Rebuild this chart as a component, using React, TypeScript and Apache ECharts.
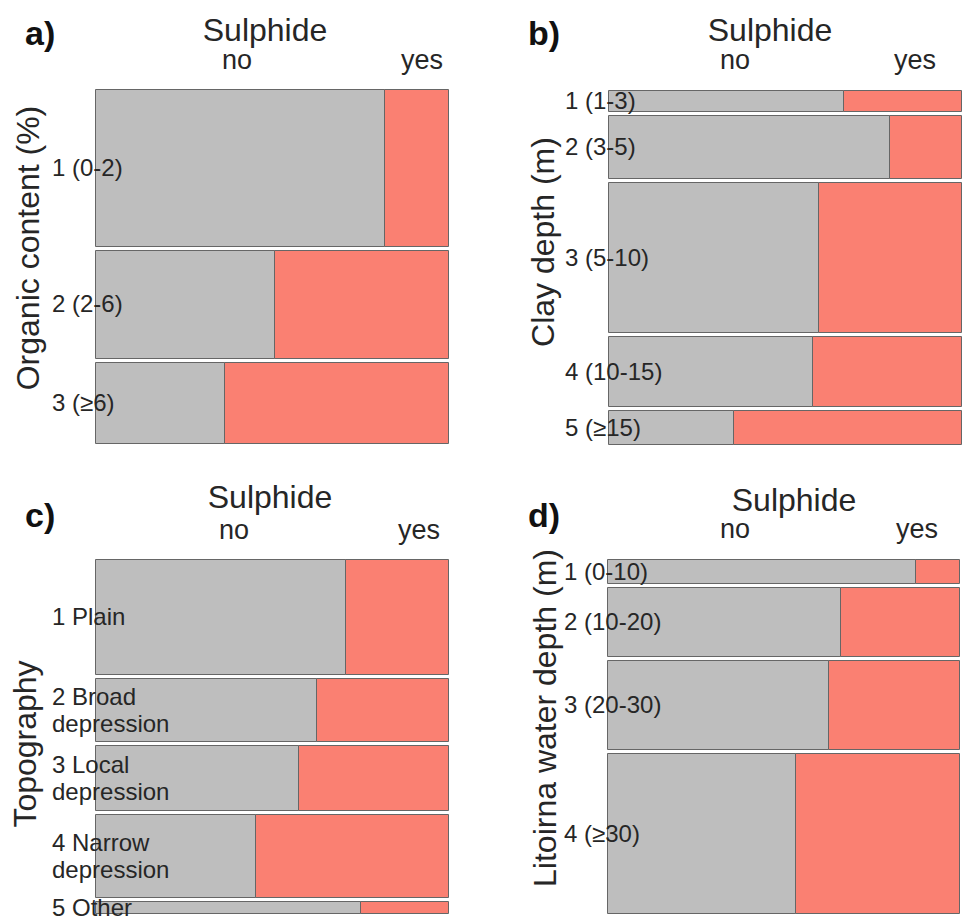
import React, { useEffect, useRef } from "react";
import * as echarts from "echarts";

// ---- data (estimated counts read from the mosaic tiles) ----
const sulphideLevels = ["no", "yes"];

const organicCats = ["1 (0-2)", "2 (2-6)", "3 (≥6)"];
const organicNo = [82, 35, 19];
const organicYes = [18, 34, 33];

const clayCats = ["1 (1-3)", "2 (3-5)", "3 (5-10)", "4 (10-15)", "5 (≥15)"];
const clayNo = [14, 51, 90, 41, 12];
const clayYes = [7, 13, 61, 30, 22];

const topoCats = ["1 Plain", "2 Broad\ndepression", "3 Local\ndepression", "4 Narrow\ndepression", "5 Other"];
const topoNo = [83, 40, 38, 38, 9];
const topoYes = [34, 24, 28, 46, 3];

const litoCats = ["1 (0-10)", "2 (10-20)", "3 (20-30)", "4 (≥30)"];
const litoNo = [21, 45, 56, 85];
const litoYes = [3, 23, 33, 74];

// ---- layout / style ----
const FONT = '"Liberation Sans", Arial, Helvetica, sans-serif';
const GRAY = "#bebebe";
const SALMON = "#fa8072";
const EDGE = "#666666";
const TXT = "#262626";
const GAP_PX = 4;

type Panel = {
  letter: string;
  axisTitle: string;
  cats: string[];
  no: number[];
  yes: number[];
  grid: { left: number; top: number; width: number; height: number };
  letterPos: [number, number];
  titlePos: [number, number];
  noPos: [number, number];
  yesPos: [number, number];
  axisPos: [number, number];
};

const panels: Panel[] = [
  {
    letter: "a)", axisTitle: "Organic content (%)", cats: organicCats, no: organicNo, yes: organicYes,
    grid: { left: 95, top: 89, width: 353, height: 354 },
    letterPos: [25, 33], titlePos: [265, 30], noPos: [237, 60], yesPos: [422, 60], axisPos: [28, 248],
  },
  {
    letter: "b)", axisTitle: "Clay depth (m)", cats: clayCats, no: clayNo, yes: clayYes,
    grid: { left: 608, top: 90, width: 353, height: 354 },
    letterPos: [528, 33], titlePos: [770, 30], noPos: [735, 60], yesPos: [915, 60], axisPos: [543, 242],
  },
  {
    letter: "c)", axisTitle: "Topography", cats: topoCats, no: topoNo, yes: topoYes,
    grid: { left: 95, top: 559, width: 353, height: 354 },
    letterPos: [25, 515], titlePos: [270, 497], noPos: [234, 530], yesPos: [419, 530], axisPos: [25, 744],
  },
  {
    letter: "d)", axisTitle: "Litoirna water depth (m)", cats: litoCats, no: litoNo, yes: litoYes,
    grid: { left: 607, top: 559, width: 352, height: 354 },
    letterPos: [528, 515], titlePos: [794, 500], noPos: [735, 529], yesPos: [917, 529], axisPos: [545, 718],
  },
];

function buildOption() {
  const grids: any[] = [];
  const xAxes: any[] = [];
  const yAxes: any[] = [];
  const series: any[] = [];
  const graphics: any[] = [];

  panels.forEach((p, pi) => {
    const n = p.cats.length;
    const totals = p.cats.map((_, i) => p.no[i] + p.yes[i]);
    const total = totals.reduce((a, b) => a + b, 0);
    const gapUnits = (GAP_PX * total) / (p.grid.height - GAP_PX * (n - 1));
    const yMax = total + gapUnits * (n - 1);

    grids.push({ ...p.grid, containLabel: false });
    xAxes.push({ type: "value", gridIndex: pi, min: 0, max: 1, show: false });
    yAxes.push({ type: "value", gridIndex: pi, min: 0, max: yMax, inverse: true, show: false });

    const tiles: any[] = [];
    const labels: any[] = [];
    let cum = 0;
    for (let i = 0; i < n; i++) {
      const y0 = cum + i * gapUnits;
      const y1 = y0 + totals[i];
      const fNo = p.no[i] / totals[i];
      tiles.push([i, 0, 0, fNo, y0, y1]);
      tiles.push([i, 1, fNo, 1, y0, y1]);
      labels.push([i, 0, (y0 + y1) / 2]);
      cum += totals[i];
    }

    series.push({
      type: "custom",
      xAxisIndex: pi,
      yAxisIndex: pi,
      data: tiles,
      silent: true,
      renderItem: (params: any, api: any) => {
        const a = api.coord([api.value(2), api.value(4)]);
        const b = api.coord([api.value(3), api.value(5)]);
        const x = Math.round(a[0]) + 0.5;
        const x2 = Math.round(b[0]) + 0.5;
        const y = Math.round(Math.min(a[1], b[1])) + 0.5;
        const y2 = Math.round(Math.max(a[1], b[1])) + 0.5;
        return {
          type: "rect",
          shape: { x, y, width: x2 - x, height: y2 - y },
          style: { fill: api.value(1) === 0 ? GRAY : SALMON, stroke: EDGE, lineWidth: 1 },
        };
      },
    });

    series.push({
      type: "custom",
      xAxisIndex: pi,
      yAxisIndex: pi,
      data: labels,
      silent: true,
      z: 5,
      clip: false,
      renderItem: (params: any, api: any) => {
        const c = api.coord([api.value(1), api.value(2)]);
        return {
          type: "text",
          x: c[0] - 43,
          y: c[1],
          style: {
            text: p.cats[api.value(0)],
            fontSize: 24,
            fontFamily: FONT,
            fill: TXT,
            align: "left",
            verticalAlign: "middle",
            lineHeight: 27,
          },
        };
      },
    });

    const txt = (text: string, pos: [number, number], size: number, extra: any = {}) => ({
      type: "text",
      x: pos[0],
      y: pos[1],
      silent: true,
      ...extra,
      style: {
        text,
        fontSize: size,
        fontFamily: FONT,
        fill: TXT,
        align: "center",
        verticalAlign: "middle",
        ...(extra.style || {}),
      },
    });

    graphics.push(txt(p.letter, p.letterPos, 34, { style: { align: "left", fontWeight: "bold", fill: "#111" } }));
    graphics.push(txt("Sulphide", p.titlePos, 32));
    graphics.push(txt(sulphideLevels[0], p.noPos, 27));
    graphics.push(txt(sulphideLevels[1], p.yesPos, 27));
    graphics.push(txt(p.axisTitle, p.axisPos, 32, { rotation: Math.PI / 2 }));
  });

  return {
    animation: false,
    backgroundColor: "#ffffff",
    grid: grids,
    xAxis: xAxes,
    yAxis: yAxes,
    series,
    graphic: graphics,
  };
}

export default function App() {
  const ref = useRef<HTMLDivElement>(null);
  useEffect(() => {
    if (!ref.current) return;
    const chart = echarts.init(ref.current, undefined, { renderer: "svg" });
    chart.setOption(buildOption() as any);
    return () => chart.dispose();
  }, []);
  return (
    <div
      ref={ref}
      style={{ position: "absolute", left: 0, top: 0, width: 963, height: 917, background: "#fff" }}
    />
  );
}
